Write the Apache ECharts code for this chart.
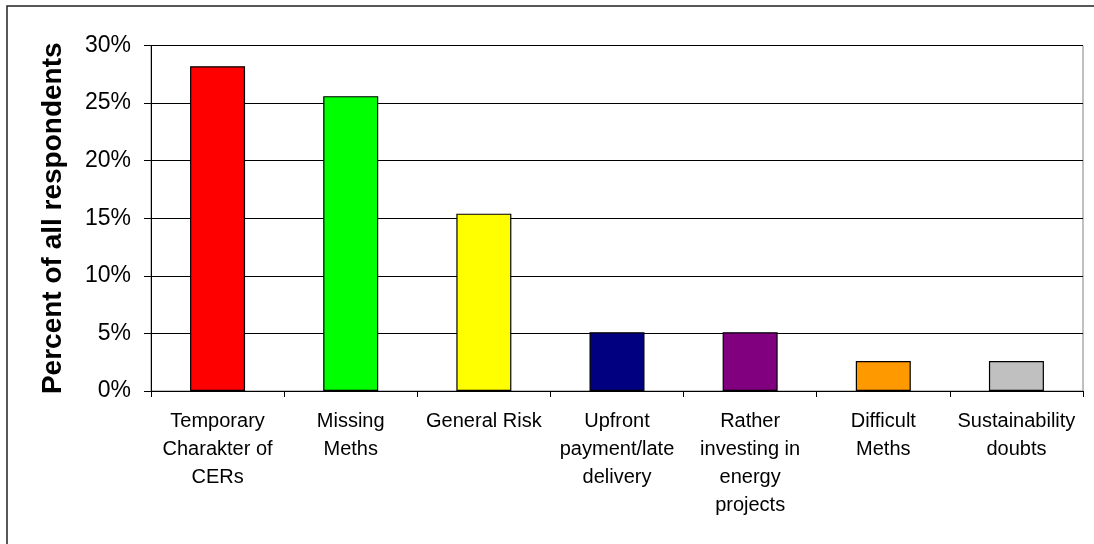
<!DOCTYPE html>
<html>
<head>
<meta charset="utf-8">
<style>
  html, body { margin: 0; padding: 0; background: #ffffff; }
  #chart { width: 1094px; height: 544px; }
</style>
<script src="https://cdn.jsdelivr.net/npm/echarts@6/dist/echarts.min.js"></script>
</head>
<body>
<div id="chart"></div>
<script>
// Reasons given by respondents (share of all respondents, %)
const categories = [
  'Temporary\nCharakter of\nCERs',
  'Missing\nMeths',
  'General Risk',
  'Upfront\npayment/late\ndelivery',
  'Rather\ninvesting in\nenergy\nprojects',
  'Difficult\nMeths',
  'Sustainability\ndoubts'
];
const shares = [28.2, 25.6, 15.4, 5.1, 5.1, 2.6, 2.6];
const barColors = ['#ff0000', '#00ff00', '#ffff00', '#000080', '#800080', '#ff9900', '#c0c0c0'];
const yTicks = [0, 5, 10, 15, 20, 25, 30];

const font = '"Liberation Sans", Arial, sans-serif';

const chart = echarts.init(document.getElementById('chart'), null, { renderer: 'canvas' });

chart.setOption({
  animation: false,
  backgroundColor: '#ffffff',
  graphic: [
    {
      type: 'rect',
      shape: { x: 7, y: 6, width: 1200, height: 700 },
      style: { fill: 'none', stroke: '#222222', lineWidth: 1.5 },
      silent: true,
      z: 0
    }
  ],
  grid: {
    left: 151,
    right: 11,
    top: 45.5,
    bottom: 153,
    show: true,
    borderColor: '#808080',
    borderWidth: 1,
    backgroundColor: 'transparent'
  },
  xAxis: {
    type: 'category',
    data: categories,
    boundaryGap: true,
    axisLine: { lineStyle: { color: '#000000', width: 1 } },
    axisTick: { show: true, length: 6, interval: 0, lineStyle: { color: '#000000' } },
    axisLabel: {
      interval: 0,
      color: '#000000',
      fontFamily: font,
      fontSize: 20,
      lineHeight: 28,
      margin: 16
    }
  },
  yAxis: {
    type: 'value',
    min: yTicks[0],
    max: yTicks[yTicks.length - 1],
    interval: 5,
    name: 'Percent of all respondents',
    nameLocation: 'middle',
    nameGap: 84,
    nameTextStyle: {
      color: '#000000',
      fontFamily: font,
      fontWeight: 'bold',
      fontSize: 28
    },
    axisLine: { show: true, lineStyle: { color: '#000000', width: 1 } },
    axisTick: { show: true, length: 7, lineStyle: { color: '#000000' } },
    axisLabel: {
      formatter: '{value}%',
      color: '#000000',
      fontFamily: font,
      fontSize: 23,
      margin: 20
    },
    splitLine: { show: true, lineStyle: { color: '#000000', width: 1 } }
  },
  series: [
    {
      type: 'bar',
      data: shares.map((v, i) => ({ value: v, itemStyle: { color: barColors[i] } })),
      barWidth: 55,
      itemStyle: { borderColor: '#000000', borderWidth: 1.2 }
    }
  ]
});
</script>
</body>
</html>
